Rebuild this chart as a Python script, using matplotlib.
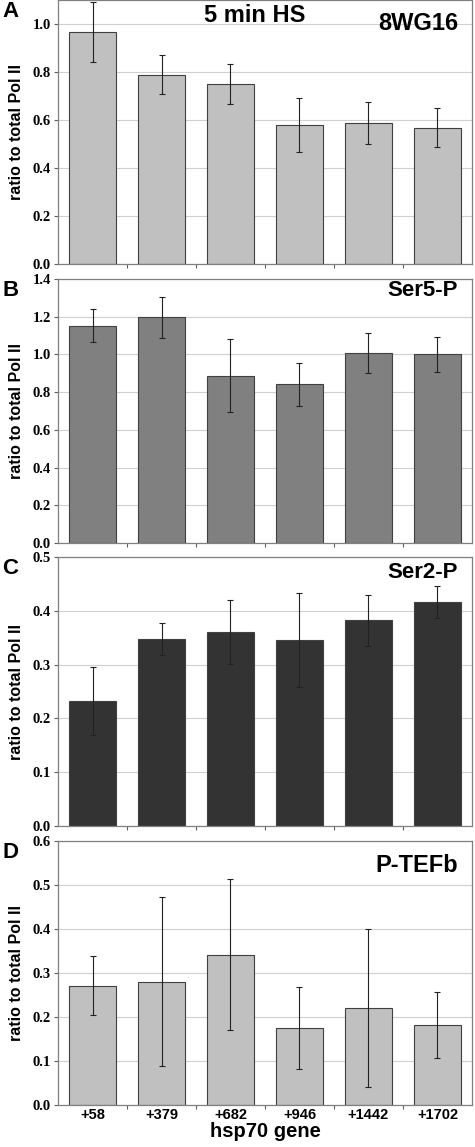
import matplotlib
matplotlib.use("Agg")
import matplotlib.pyplot as plt
import numpy as np

# data
positions = ["+58", "+379", "+682", "+946", "+1442", "+1702"]

val_8wg16 = [0.967, 0.788, 0.751, 0.578, 0.586, 0.568]
err_8wg16 = [0.125, 0.081, 0.084, 0.112, 0.088, 0.082]

val_ser5 = [1.152, 1.196, 0.888, 0.841, 1.005, 1.000]
err_ser5 = [0.088, 0.110, 0.192, 0.115, 0.106, 0.093]

val_ser2 = [0.233, 0.348, 0.361, 0.346, 0.382, 0.417]
err_ser2 = [0.063, 0.030, 0.059, 0.088, 0.048, 0.030]

val_ptefb = [0.271, 0.280, 0.342, 0.175, 0.220, 0.181]
err_ptefb = [0.067, 0.192, 0.172, 0.094, 0.180, 0.075]

panels = [
    ("A", "8WG16", val_8wg16, err_8wg16, "#c0c0c0", 1.1, [0.0, 0.2, 0.4, 0.6, 0.8, 1.0]),
    ("B", "Ser5-P", val_ser5, err_ser5, "#808080", 1.4, [0.0, 0.2, 0.4, 0.6, 0.8, 1.0, 1.2, 1.4]),
    ("C", "Ser2-P", val_ser2, err_ser2, "#333333", 0.5, [0.0, 0.1, 0.2, 0.3, 0.4, 0.5]),
    ("D", "P-TEFb", val_ptefb, err_ptefb, "#c0c0c0", 0.6, [0.0, 0.1, 0.2, 0.3, 0.4, 0.5, 0.6]),
]

W, H = 475, 1147
fig = plt.figure(figsize=(W / 100, H / 100), dpi=100)

# axes boxes in pixels: (top, bottom)
boxes = [(0, 264), (279, 543), (557, 826), (841, 1105)]
left_px, right_px = 58, 472

serif = ["Liberation Serif", "DejaVu Serif"]
sans = ["Liberation Sans", "DejaVu Sans"]

x = np.arange(len(positions))
for (letter, name, vals, errs, color, ymax, yt), (top, bot) in zip(panels, boxes):
    ax = fig.add_axes([left_px / W, 1 - bot / H, (right_px - left_px) / W, (bot - top) / H])
    ax.bar(x, vals, width=0.67, color=color, edgecolor="#404040", linewidth=0.8, zorder=2)
    ax.errorbar(x, vals, yerr=errs, fmt="none", ecolor="#222222", elinewidth=0.8,
                capsize=2.5, capthick=0.8, zorder=3)
    ax.set_xlim(-0.5, len(positions) - 0.5)
    ax.set_ylim(0, ymax)
    ax.set_yticks(yt)
    ax.set_yticklabels(["%.1f" % v for v in yt], family=serif, fontweight="bold", fontsize=10.5)
    ax.yaxis.grid(True, color="#d0d0d0", linewidth=0.8, zorder=0)
    ax.set_axisbelow(True)
    ax.set_xticks(x)
    ax.set_xticks(np.arange(0.5, len(positions) - 1, 1), minor=True)
    ax.tick_params(axis="x", which="major", length=0)
    ax.tick_params(axis="x", which="minor", length=3, color="#606060", width=0.8)
    ax.tick_params(axis="y", length=3, color="#606060", width=0.8, pad=2)
    if letter == "D":
        ax.set_xticklabels(positions, family=sans, fontweight="bold", fontsize=10.5)
        ax.tick_params(axis="x", which="major", pad=2)
        ax.set_xlabel("hsp70 gene", family=sans, fontweight="bold", fontsize=14.5, labelpad=0)
    else:
        ax.set_xticklabels([])
    for s in ax.spines.values():
        s.set_color("#808080")
        s.set_linewidth(0.9)
    ax.set_ylabel("ratio to total Pol II", family=sans, fontweight="bold", fontsize=11.5)
    ax.yaxis.set_label_coords(-0.082, 0.5)

    # label top right
    ty = {"A": 24, "B": 291, "C": 573, "D": 865}[letter]
    fs = {"A": 17, "B": 16, "C": 16, "D": 17}[letter]
    fig.text(458 / W, 1 - ty / H, name, ha="right", va="center", family=sans,
             fontweight="bold", fontsize=fs,
             bbox=dict(facecolor="white", edgecolor="none", pad=1) if letter == "D" else None)
    # panel letter
    fig.text(2 / W, 1 - (top + 1) / H, letter, ha="left", va="top", family=sans,
             fontweight="bold", fontsize=16)

fig.text(255 / W, 1 - 16 / H, "5 min HS", ha="center", va="center", family=sans,
         fontweight="bold", fontsize=17)

fig.savefig("out.png", dpi=100)
